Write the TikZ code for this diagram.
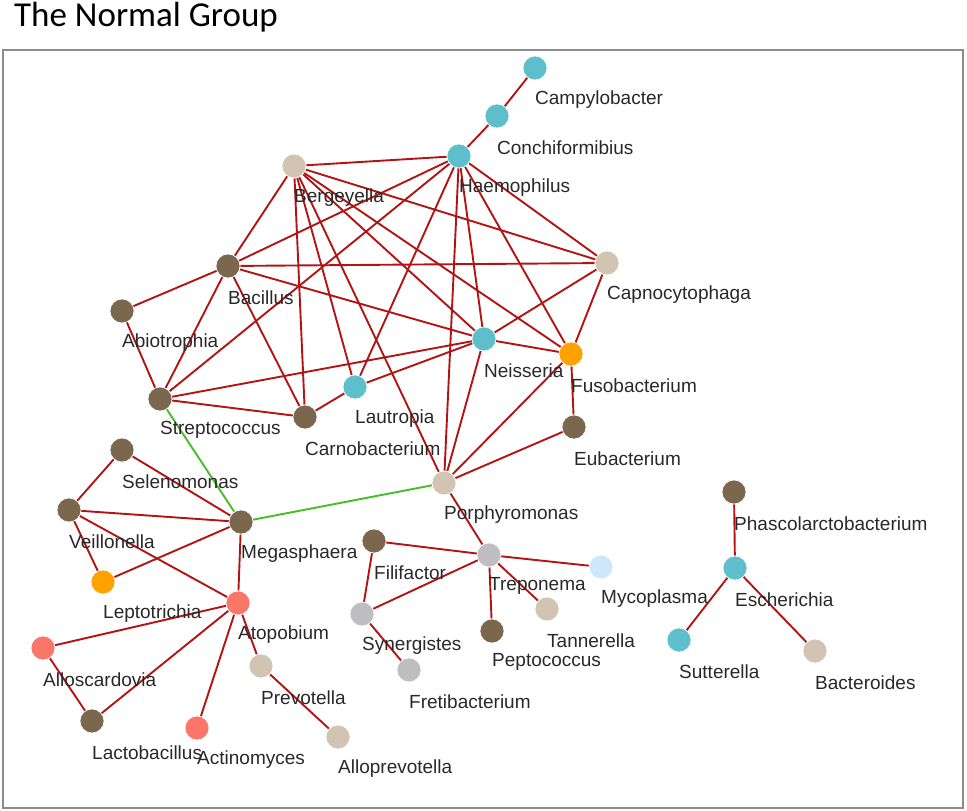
\documentclass[tikz,border=0pt]{standalone}
\usepackage{fontspec}
\setmainfont{Liberation Sans}
\newfontfamily\titlefont{Carlito}
\usetikzlibrary{backgrounds}

\definecolor{taxbrown}{RGB}{122,103,78}
\definecolor{taxtan}{RGB}{210,196,178}
\definecolor{taxteal}{RGB}{94,190,204}
\definecolor{taxorange}{RGB}{255,162,0}
\definecolor{taxsalmon}{RGB}{250,118,104}
\definecolor{taxgray}{RGB}{190,190,192}
\definecolor{taxblue}{RGB}{204,232,250}
\definecolor{linkred}{RGB}{178,20,20}
\definecolor{linkgreen}{RGB}{70,190,40}
\definecolor{labelgray}{RGB}{40,40,40}

\begin{document}
\begin{tikzpicture}[x=1pt, y=-1pt, label distance=19pt]

        % Setup the styles for the taxa and their links
        \tikzset{taxon/.style={circle, minimum size=24pt, inner sep=0pt,
                               draw=white, line width=.6pt},
                 brownnode/.style={taxon, fill=taxbrown},
                 tannode/.style={taxon, fill=taxtan},
                 tealnode/.style={taxon, fill=taxteal},
                 orangenode/.style={taxon, fill=taxorange},
                 salmonnode/.style={taxon, fill=taxsalmon},
                 graynode/.style={taxon, fill=taxgray},
                 bluenode/.style={taxon, fill=taxblue},
                 tag/.style={anchor=west, inner sep=0pt, text=labelgray,
                             font=\fontsize{19}{22}\selectfont},
                 link/.style={draw=linkred, line width=1.9pt},
                 greenlink/.style={draw=linkgreen, line width=1.9pt}}

        \useasboundingbox (0,0) rectangle (967,811);

        % Title and frame
        \node[anchor=base west, inner sep=0pt,
              font=\titlefont\fontsize{35}{40}\selectfont] at (14,27) (title) {The Normal Group};
        \draw[draw=black!45, line width=1.5pt] (3,50) rectangle (963,808);

        % Draw the taxa
        \node[tealnode, label={[tag]south:Campylobacter}]          at (535,68)  (Campylobacter)   {};
        \node[tealnode, label={[tag]south:Conchiformibius}]        at (497,116) (Conchiformibius) {};
        \node[tealnode, label={[tag]south:Haemophilus}]            at (459,156) (Haemophilus)     {};
        \node[tannode, label={[tag]south:Bergeyella}]              at (294,166) (Bergeyella)      {};
        \node[brownnode, label={[tag]south:Bacillus}]              at (228,266) (Bacillus)        {};
        \node[tannode, label={[tag]south:Capnocytophaga}]          at (607,263) (Capnocytophaga)  {};
        \node[brownnode, label={[tag]south:Abiotrophia}]           at (122,311) (Abiotrophia)     {};
        \node[tealnode, label={[tag]south:Neisseria}]              at (484,339) (Neisseria)       {};
        \node[orangenode, label={[tag]south:Fusobacterium}]        at (571,354) (Fusobacterium)   {};
        \node[tealnode, label={[tag]south:Lautropia}]              at (355,387) (Lautropia)       {};
        \node[brownnode, label={[tag]south:Streptococcus}]         at (160,399) (Streptococcus)   {};
        \node[brownnode, label={[tag]south:Carnobacterium}]        at (305,417) (Carnobacterium)  {};
        \node[brownnode, label={[tag]south:Eubacterium}]           at (574,427) (Eubacterium)     {};
        \node[brownnode, label={[tag]south:Selenomonas}]           at (122,450) (Selenomonas)     {};
        \node[tannode, label={[tag]south:Porphyromonas}]           at (444,483) (Porphyromonas)   {};
        \node[brownnode, label={[tag]south:Veillonella}]           at (69,510)  (Veillonella)     {};
        \node[brownnode, label={[tag]south:Megasphaera}]           at (241,522) (Megasphaera)     {};
        \node[brownnode, label={[tag]south:Filifactor}]            at (374,541) (Filifactor)      {};
        \node[graynode, label={[tag]south:Treponema}]              at (489,555) (Treponema)       {};
        \node[bluenode, label={[tag]south:Mycoplasma}]             at (601,567) (Mycoplasma)      {};
        \node[brownnode, label={[tag]south:Phascolarctobacterium}] at (734,492) (Phascolarcto)    {};
        \node[tealnode, label={[tag]south:Escherichia}]            at (735,568) (Escherichia)     {};
        \node[orangenode, label={[tag]south:Leptotrichia}]         at (103,582) (Leptotrichia)    {};
        \node[salmonnode, label={[tag]south:Atopobium}]            at (238,603) (Atopobium)       {};
        \node[graynode, label={[tag]south:Synergistes}]            at (362,614) (Synergistes)     {};
        \node[tannode, label={[tag]south:Tannerella}]              at (547,609) (Tannerella)      {};
        \node[brownnode, label={[tag]south:Peptococcus}]           at (492,631) (Peptococcus)     {};
        \node[salmonnode, label={[tag]south:Alloscardovia}]        at (43,648)  (Alloscardovia)   {};
        \node[tealnode, label={[tag]south:Sutterella}]             at (679,640) (Sutterella)      {};
        \node[tannode, label={[tag]south:Prevotella}]              at (261,666) (Prevotella)      {};
        \node[graynode, label={[tag]south:Fretibacterium}]         at (409,670) (Fretibacterium)  {};
        \node[tannode, label={[tag]south:Bacteroides}]             at (815,651) (Bacteroides)     {};
        \node[brownnode, label={[tag]south:Lactobacillus}]         at (92,721)  (Lactobacillus)   {};
        \node[salmonnode, label={[tag]south:Actinomyces}]          at (197,728) (Actinomyces)     {};
        \node[tannode, label={[tag]south:Alloprevotella}]          at (338,737) (Alloprevotella)  {};

        % Connect the taxa, behind the circles and names
        \begin{scope}[on background layer]
        \draw[link]
            (Campylobacter)   edge (Conchiformibius)
            (Conchiformibius) edge (Haemophilus)
            (Haemophilus)     edge (Bergeyella)
            (Haemophilus)     edge (Bacillus)
            (Haemophilus)     edge (Streptococcus)
            (Haemophilus)     edge (Lautropia)
            (Haemophilus)     edge (Porphyromonas)
            (Haemophilus)     edge (Neisseria)
            (Haemophilus)     edge (Fusobacterium)
            (Haemophilus)     edge (Capnocytophaga)
            (Bergeyella)      edge (Bacillus)
            (Bergeyella)      edge (Capnocytophaga)
            (Bergeyella)      edge (Fusobacterium)
            (Bergeyella)      edge (Neisseria)
            (Bergeyella)      edge (Porphyromonas)
            (Bergeyella)      edge (Lautropia)
            (Bergeyella)      edge (Carnobacterium)
            (Bacillus)        edge (Abiotrophia)
            (Bacillus)        edge (Streptococcus)
            (Bacillus)        edge (Carnobacterium)
            (Bacillus)        edge (Capnocytophaga)
            (Bacillus)        edge (Neisseria)
            (Abiotrophia)     edge (Streptococcus)
            (Streptococcus)   edge (Neisseria)
            (Streptococcus)   edge (Carnobacterium)
            (Carnobacterium)  edge (Lautropia)
            (Lautropia)       edge (Neisseria)
            (Neisseria)       edge (Capnocytophaga)
            (Neisseria)       edge (Fusobacterium)
            (Neisseria)       edge (Porphyromonas)
            (Capnocytophaga)  edge (Fusobacterium)
            (Fusobacterium)   edge (Eubacterium)
            (Fusobacterium)   edge (Porphyromonas)
            (Eubacterium)     edge (Porphyromonas)
            (Selenomonas)     edge (Veillonella)
            (Selenomonas)     edge (Megasphaera)
            (Veillonella)     edge (Megasphaera)
            (Veillonella)     edge (Leptotrichia)
            (Veillonella)     edge (Atopobium)
            (Megasphaera)     edge (Leptotrichia)
            (Megasphaera)     edge (Atopobium)
            (Atopobium)       edge (Alloscardovia)
            (Atopobium)       edge (Lactobacillus)
            (Atopobium)       edge (Actinomyces)
            (Atopobium)       edge (Prevotella)
            (Alloscardovia)   edge (Lactobacillus)
            (Prevotella)      edge (Alloprevotella)
            (Porphyromonas)   edge (Treponema)
            (Filifactor)      edge (Treponema)
            (Filifactor)      edge (Synergistes)
            (Synergistes)     edge (Treponema)
            (Synergistes)     edge (Fretibacterium)
            (Treponema)       edge (Mycoplasma)
            (Treponema)       edge (Tannerella)
            (Treponema)       edge (Peptococcus)
            (Phascolarcto)    edge (Escherichia)
            (Escherichia)     edge (Sutterella)
            (Escherichia)     edge (Bacteroides);
        \draw[greenlink]
            (Streptococcus)   edge (Megasphaera)
            (Megasphaera)     edge (Porphyromonas);
        \end{scope}
      \end{tikzpicture}
\end{document}
